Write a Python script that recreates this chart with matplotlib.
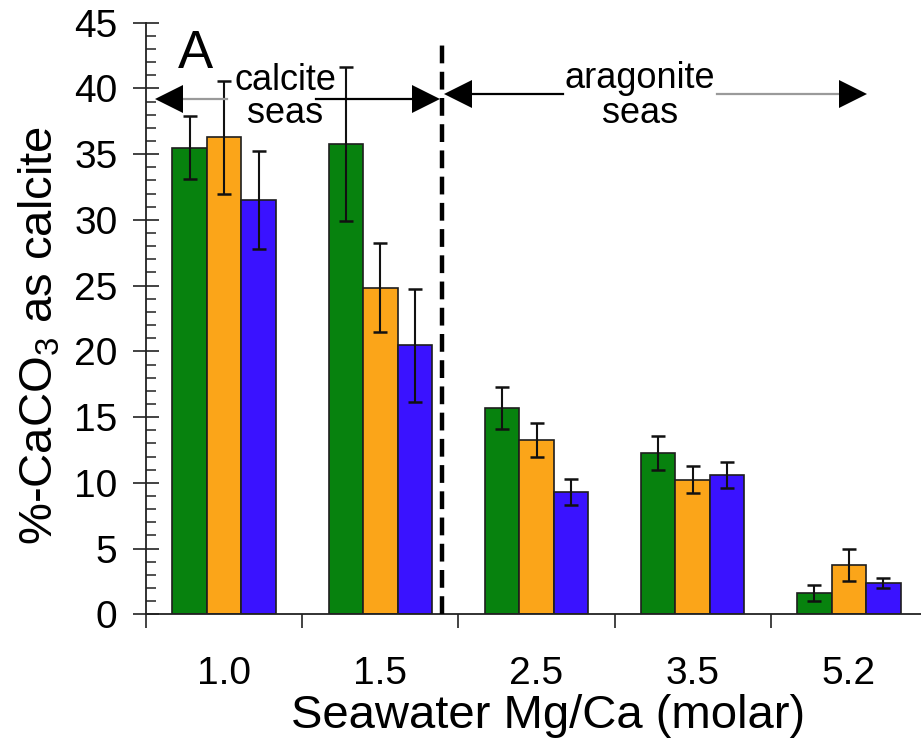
import matplotlib
matplotlib.use("Agg")
import matplotlib.pyplot as plt
from matplotlib.ticker import MultipleLocator, FixedLocator
import numpy as np

plt.rcParams['font.family'] = ['Liberation Sans', 'DejaVu Sans']
plt.rcParams['mathtext.fontset'] = 'custom'
plt.rcParams['mathtext.rm'] = 'Liberation Sans'
plt.rcParams['mathtext.it'] = 'Liberation Sans'
plt.rcParams['mathtext.default'] = 'regular'

# Seawater Mg/Ca ratios (molar)
categories = ["1.0", "1.5", "2.5", "3.5", "5.2"]

# % of CaCO3 precipitated as calcite, three series per ratio
green_vals = [35.5, 35.75, 15.7, 12.3, 1.6]
orange_vals = [36.3, 24.85, 13.25, 10.25, 3.75]
blue_vals = [31.5, 20.45, 9.3, 10.6, 2.35]

green_err = [2.4, 5.85, 1.6, 1.3, 0.6]
orange_err = [4.3, 3.4, 1.3, 1.0, 1.2]
blue_err = [3.75, 4.3, 0.97, 1.0, 0.38]

colors = ["#07820E", "#FBA519", "#3A12FF"]
edge = "#1e1e1e"

fig = plt.figure(figsize=(9.21, 7.47), dpi=100)
ax = fig.add_axes([146 / 921, (747 - 614.3) / 747, 781 / 921, 591.6 / 747])

x = np.arange(len(categories))
w = 0.221
series = [(green_vals, green_err), (orange_vals, orange_err), (blue_vals, blue_err)]
for i, ((vals, errs), c) in enumerate(zip(series, colors)):
    ax.bar(x + (i - 1) * w, vals, width=w, color=c, edgecolor=edge,
           linewidth=1.2, zorder=2)
    ax.errorbar(x + (i - 1) * w, vals, yerr=errs, fmt='none', ecolor='#111111',
                elinewidth=1.5, capsize=5.2, capthick=1.8, zorder=3)

ax.set_xlim(-0.5, 4.5)
ax.set_ylim(0, 45)

# axis styling
for s in ['top', 'right']:
    ax.spines[s].set_visible(False)
for s in ['left', 'bottom']:
    ax.spines[s].set_color('#222222')
    ax.spines[s].set_linewidth(1.3)

ax.yaxis.set_major_locator(MultipleLocator(5))
ax.yaxis.set_minor_locator(MultipleLocator(1))
ax.tick_params(axis='y', which='major', direction='inout', length=19,
               width=1.2, color='#222222', labelsize=28, pad=11)
ax.tick_params(axis='y', which='minor', direction='in', length=7.2,
               width=1.1, color='#222222')

ax.set_xticks(x)
ax.set_xticklabels(categories)
ax.xaxis.set_minor_locator(FixedLocator(np.arange(-0.5, 5.0, 1.0)))
ax.tick_params(axis='x', which='major', length=0, labelsize=28, pad=30)
ax.tick_params(axis='x', which='minor', direction='out', length=10,
               width=1.2, color='#222222')

ax.set_xlabel("Seawater Mg/Ca (molar)", fontsize=34)
ax.xaxis.set_label_coords(0.5147, -0.134)
ax.set_ylabel(r"%-CaCO$_3$ as calcite", fontsize=34)
ax.yaxis.set_label_coords(-0.107, 0.472)

# boundary between calcite and aragonite seas
ax.plot([1.394, 1.394], [0, 43.5], color='black', lw=3.2,
        linestyle=(0, (4.0, 1.9)), zorder=4, clip_on=False)

# calcite seas arrow
ax.plot([-0.261, 0.019], [39.19, 39.19], color='#9a9a9a', lw=1.6, zorder=4)
ax.plot([0.588, 1.20], [39.19, 39.19], color='black', lw=1.6, zorder=4)
ax.plot([-0.3517], [39.19], marker='<', ms=20, color='black', mew=0, zorder=5)
ax.plot([1.2912], [39.19], marker='>', ms=20, color='black', mew=0, zorder=5)

# aragonite seas arrow
ax.plot([1.595, 2.169], [39.54, 39.54], color='black', lw=1.6, zorder=4)
ax.plot([3.154, 3.94], [39.54, 39.54], color='#9a9a9a', lw=1.6, zorder=4)
ax.plot([1.4989], [39.54], marker='<', ms=20, color='black', mew=0, zorder=5)
ax.plot([4.025], [39.54], marker='>', ms=20, color='black', mew=0, zorder=5)

ax.text(0.393, 39.87, "calcite", fontsize=26, ha='center', va='baseline', zorder=6)
ax.text(0.393, 37.34, "seas", fontsize=26, ha='center', va='baseline', zorder=6)
ax.text(2.658, 40.0, "aragonite", fontsize=26, ha='center', va='baseline', zorder=6)
ax.text(2.66, 37.34, "seas", fontsize=26, ha='center', va='baseline', zorder=6)

ax.text(-0.295, 41.54, "A", fontsize=38, ha='left', va='baseline', zorder=6)

fig.savefig("out.png", dpi=100)
